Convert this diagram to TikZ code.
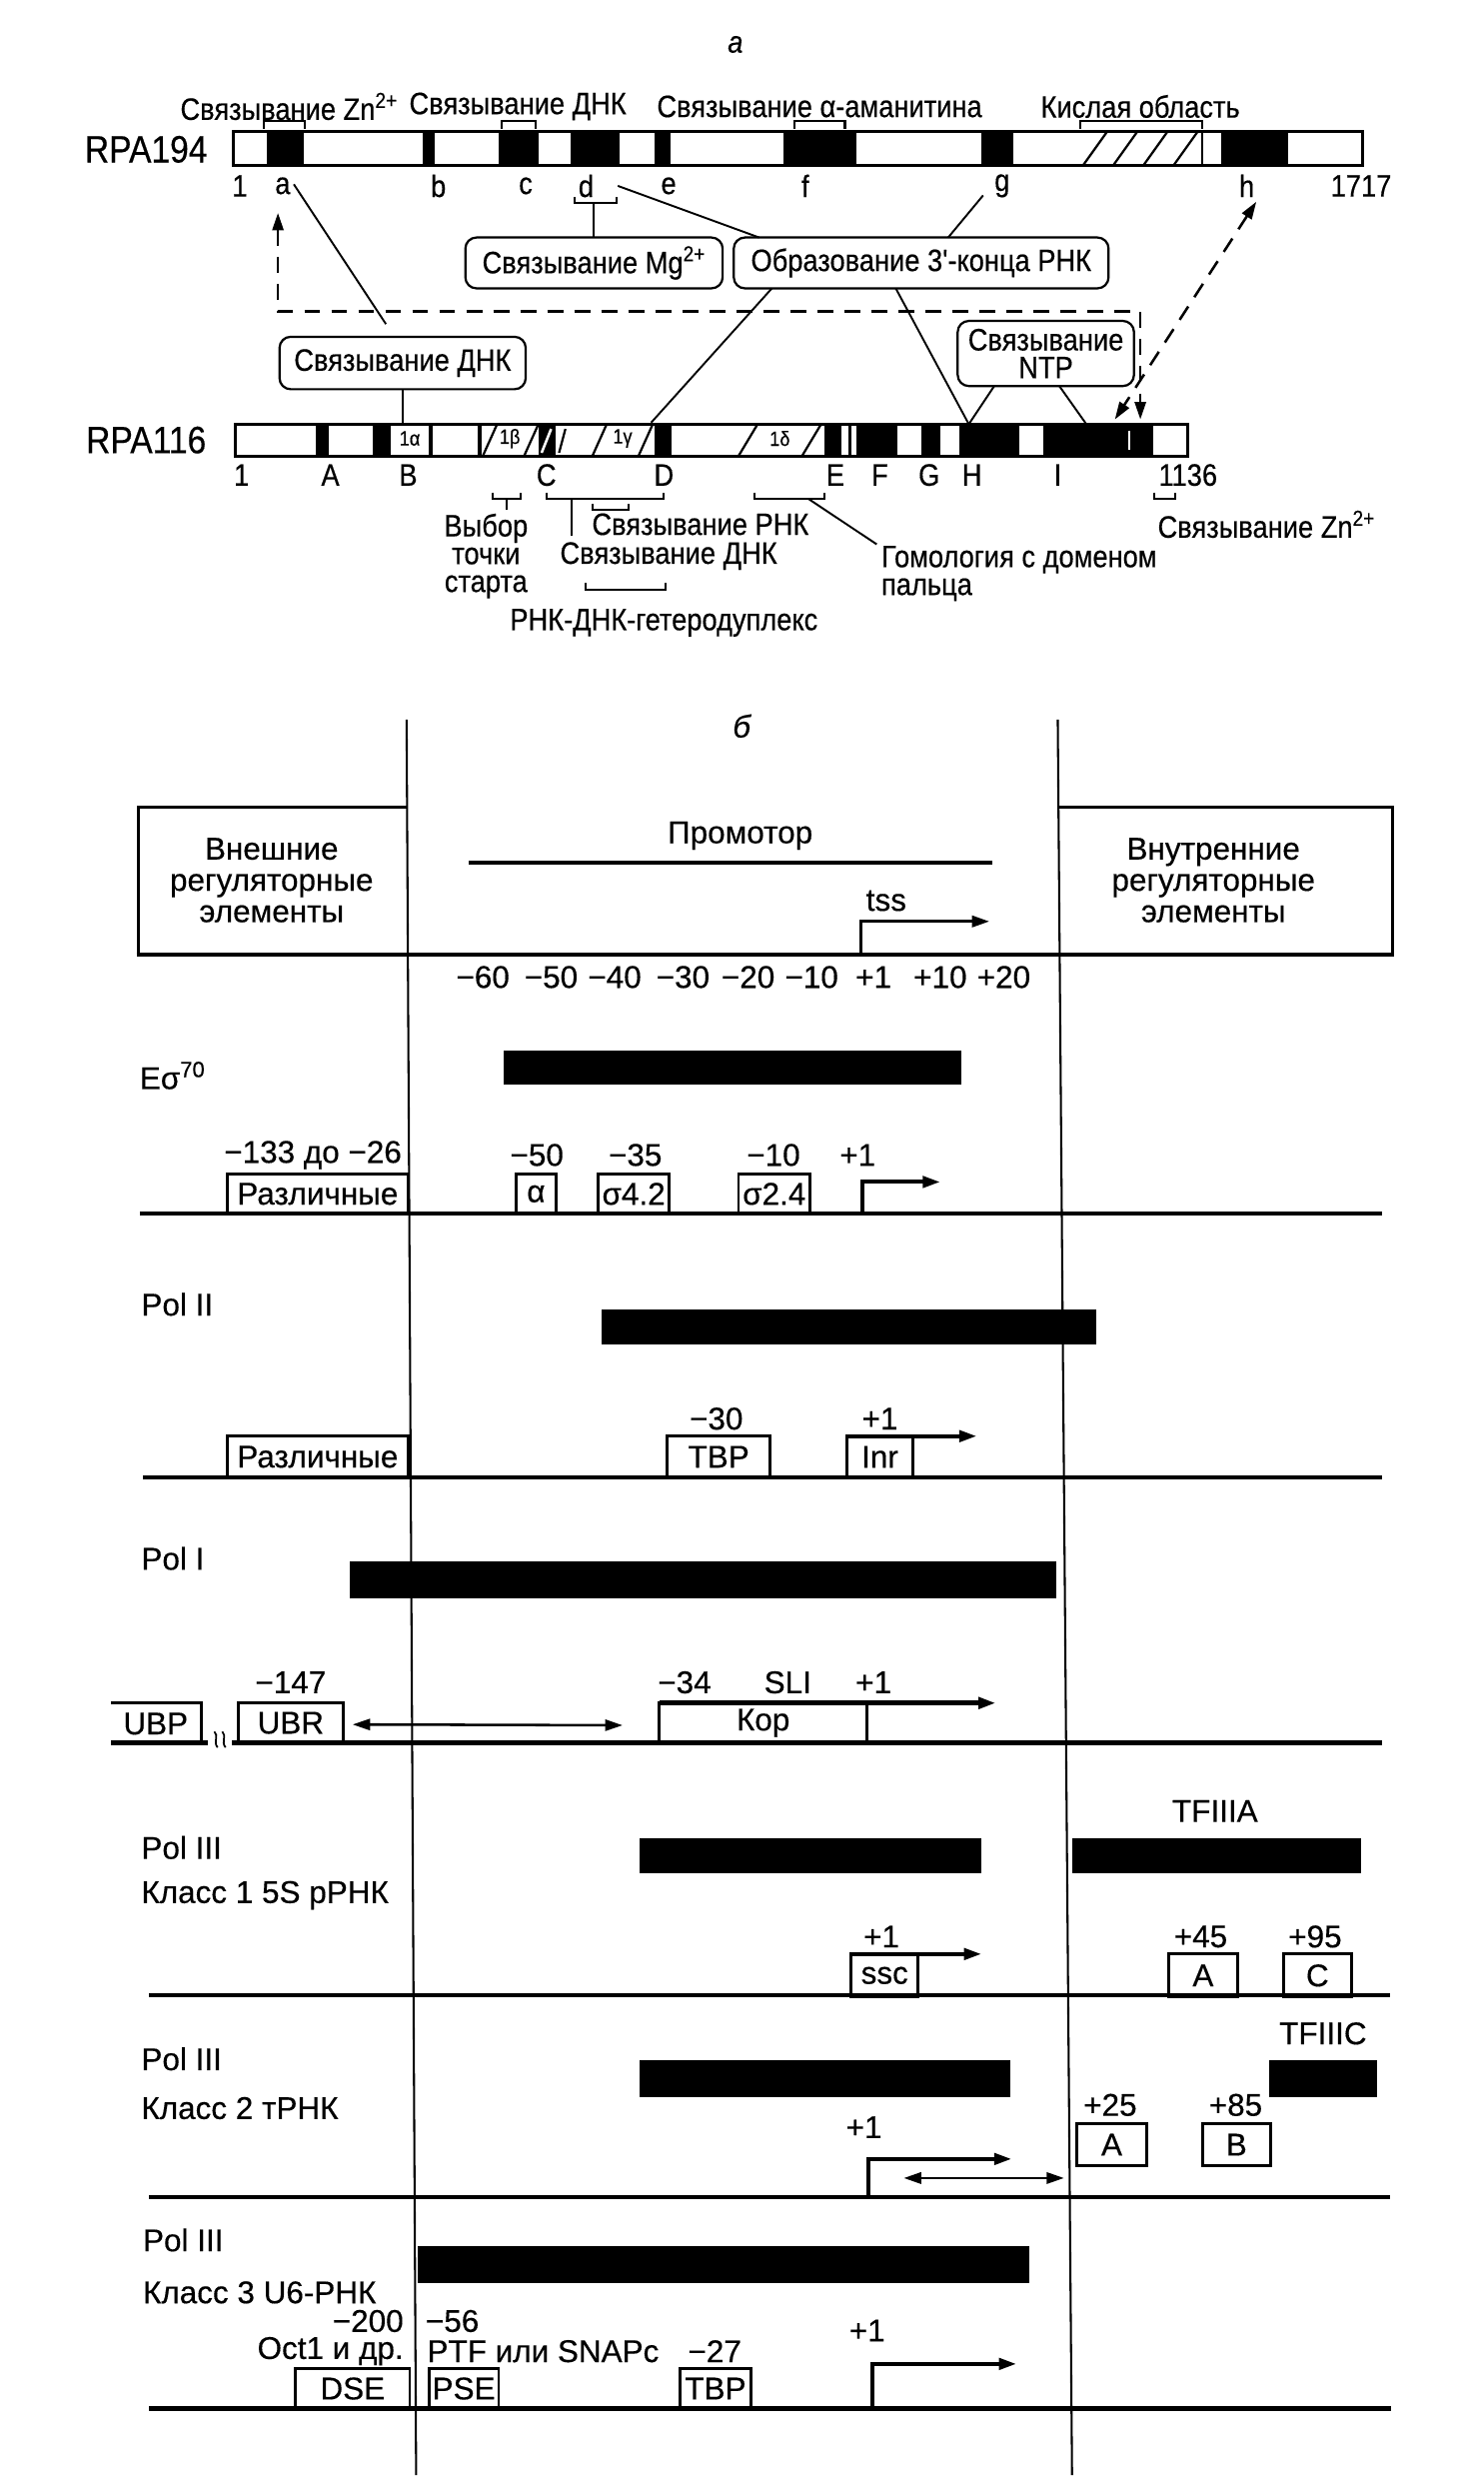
\documentclass[tikz,border=0pt]{standalone}
\usepackage{fontspec}
\setmainfont[FakeBold=0.35]{Liberation Sans}
\newfontfamily\condfam[FakeStretch=0.88,FakeBold=0.35]{Liberation Sans}
\usetikzlibrary{arrows.meta,calc}
\newcommand\pafont{\condfam\fontsize{19.5}{17.5}\selectfont}
\newcommand\pabig{\condfam\fontsize{24}{24}\selectfont}
\newcommand\pasmall{\condfam\fontsize{13}{14}\selectfont}
\newcommand\pbfont{\fontsize{19.8}{19.7}\selectfont}
\begin{document}
\begin{tikzpicture}[x=1pt,y=-1pt,
  every node/.style={inner sep=0pt, outer sep=0pt},
  ta/.style={font=\pafont},
  tb/.style={font=\pbfont},
  rbox/.style={draw, line width=1.4pt, rounded corners=7pt, font=\pafont, align=center},
  barframe/.style={line width=2pt},
  con/.style={line width=1.2pt},
  brk/.style={line width=1.3pt},
  dsh/.style={line width=1.6pt, dash pattern=on 10pt off 7pt},
  tip/.style={-{Triangle[length=11pt,width=7pt]}},
  dtip/.style={{Triangle[length=11pt,width=7pt]}-{Triangle[length=11pt,width=7pt]}},
  vline/.style={line width=1.3pt},
  base/.style={line width=2.8pt},
  frame/.style={line width=2pt},
  ebox/.style={draw, line width=1.8pt, font=\pbfont},
  hatch/.style={line width=1.4pt},
]
\fill[white] (0,0) rectangle (934,1568);
\useasboundingbox (0,0) rectangle (934,1568);

%================ PART a ================
\node[font=\pafont\itshape] (lbla) at (463,28) {а};

\node[ta] (tZn)   at (182,67) {Связывание Zn\textsuperscript{2+}};
\node[ta] (tDNK)  at (326,67) {Связывание ДНК};
\node[ta] (tAma)  at (516,67) {Связывание α-аманитина};
\node[ta] (tAcid) at (718,67) {Кислая область};

\draw[brk] (166,81)--(166,76)--(192,76)--(192,81);
\draw[brk] (316,81)--(316,76)--(337,76)--(337,81);
\draw[brk] (500,81)--(500,76)--(532,76)--(532,81);
\draw[brk] (680,81)--(680,76)--(757,76)--(757,81);

\node[font=\pabig] (r194) at (92,94) {RPA194};
\foreach \a/\b in {168/191, 266/274, 314/339, 359/390, 412/422, 493/539, 618/638, 769/811}
  \fill (\a,83) rectangle (\b,104);
\foreach \i in {0,...,3}
  \draw[hatch] (682+19*\i,104) -- (697+19*\i,83);
\draw[hatch] (757,83)--(757,104);
\draw[barframe] (147,83) rectangle (858,104);

\node[ta] (n1)  at (151,117) {1};
\node[ta] (na)  at (178,117) {a};
\node[ta] (nb)  at (276,117) {b};
\node[ta] (nc)  at (331,117) {c};
\node[ta] (nd)  at (369,117) {d};
\node[ta] (ne)  at (421,117) {e};
\node[ta] (nf)  at (507,117) {f};
\node[ta] (ng)  at (631,117) {g};
\node[ta] (nh)  at (785,117) {h};
\node[ta] (n1717) at (857,117) {1717};

\node[rbox, minimum width=162, minimum height=32] (mg)  at (374,165.5) {Связывание Mg\textsuperscript{2+}};
\node[rbox, minimum width=236, minimum height=32] (obr) at (580,165.5) {Образование 3'-конца РНК};
\node[rbox, minimum width=155, minimum height=33] (dnkbox) at (253.5,228.5) {Связывание ДНК};
\node[rbox, minimum width=111, minimum height=41] (ntp) at (658.5,222.5) {Связывание\\NTP};

% d bracket to Mg box
\draw[brk] (362,124)--(362,128)--(388,128)--(388,124);
\draw[con] (mg.north |- 0,128) -- (mg.north);

% connectors
\coordinate (pa) at (185,116);
\coordinate (pa2) at (243,204);
\draw[con] (pa) -- (pa2);
\coordinate (pd) at (389,117);
\draw[con] (pd) -- ($(obr.north west)+(16,0)$);
\coordinate (pg) at (619,123);
\draw[con] (pg) -- ($(obr.north)+(17,0)$);
\coordinate (pD) at (410,266);
\draw[con] ($(obr.south west)+(24,0)$) -- (pD);
\coordinate (pH) at (610,267);
\coordinate (pI) at (684,267);
\draw[con] ($(obr.south west)+(102,0)$) -- (pH);
\draw[con] ($(ntp.south west)+(23,0)$) -- (pH);
\draw[con] ($(ntp.south west)+(64,0)$) -- (pI);
\draw[con] (dnkbox.south) -- (dnkbox.south |- 0,267);

% dashed links
\coordinate (dA) at (175,134);
\coordinate (dI) at (718,264);
\draw[dsh, dtip] (dA) -- (175,196) -- (718,196) -- (dI);
\coordinate (dh) at (791,127);
\coordinate (dJ) at (702,264);
\draw[dsh, dtip] (dh) -- (dJ);

% RPA116 bar
\node[font=\pabig] (r116) at (92,277) {RPA116};
\foreach \a/\b in {199/207, 235/246, 270/272.5, 301/303, 339/350, 412/423, 519/530, 534/536, 539/565, 580/592, 604/642, 657/726}
  \fill (\a,267) rectangle (\b,287);
\draw[white, line width=1.2pt] (711,271)--(711,283);
\draw[white, line width=1.6pt] (341,285)--(347,270);
\draw[hatch] (304,287)--(313,267) (330,287)--(339,267);
\draw[hatch] (352,285)--(356,270);
\draw[hatch] (373,287)--(382,267) (402,287)--(411,267);
\draw[hatch] (465,287)--(477,267) (505,287)--(517,267);
\node[font=\pasmall] (s1a) at (258,276) {1α};
\node[font=\pasmall] (s1b) at (321,276) {1β};
\node[font=\pasmall] (s1g) at (392,276) {1γ};
\node[font=\pasmall] (s1d) at (491,276) {1δ};
\draw[barframe] (148,267) rectangle (748,287);

\node[ta] (m1) at (152,299) {1};
\node[ta] (mA) at (208,299) {A};
\node[ta] (mB) at (257,299) {B};
\node[ta] (mC) at (344,299) {C};
\node[ta] (mD) at (418,299) {D};
\node[ta] (mE) at (526,299) {E};
\node[ta] (mF) at (554,299) {F};
\node[ta] (mG) at (585,299) {G};
\node[ta] (mH) at (612,299) {H};
\node[ta] (mI) at (666,299) {I};
\node[ta] (m1136) at (748,299) {1136};

% brackets under RPA116
\draw[brk] (310,310)--(310,314)--(328,314)--(328,310);
\draw[brk] (319,314)--(319,321);
\node[ta, align=center] (vybor) at (306,350) {Выбор\\точки\\старта};
\draw[brk] (344,310)--(344,314)--(418,314)--(418,310);
\draw[brk] (360,314)--(360,337);
\draw[brk] (373,317)--(373,321)--(396,321)--(396,317);
\node[ta] (svRNK) at (441,330) {Связывание РНК};
\node[ta] (svDNK) at (421,350) {Связывание ДНК};
\draw[brk] (369,367)--(369,371)--(419,371)--(419,367);
\node[ta] (hetero) at (418,392) {РНК-ДНК-гетеродуплекс};
\draw[brk] (475,310)--(475,314)--(519,314)--(519,310);
\node[ta, align=left, anchor=west] (homol) at (555,361) {Гомология с доменом\\пальца};
\draw[con] (509,314) -- ($(homol.north west)+(-3,-1)$);
\draw[brk] (727,310)--(727,314)--(740,314)--(740,310);
\node[ta, anchor=west] (zn2) at (729,330) {Связывание Zn\textsuperscript{2+}};

%================ PART b ================
\node[font=\pbfont\itshape] (lblb) at (467,457) {б};
\coordinate (vl1) at (256,453); \coordinate (vl2) at (262,1558);
\coordinate (vr1) at (666,453); \coordinate (vr2) at (675,1558);
\draw[vline] (vl1) -- (vl2);
\draw[vline] (vr1) -- (vr2);

% header
\draw[frame] (256,508) -- (87,508) -- (87,601);
\draw[frame] (667,508) -- (877,508) -- (877,601);
\draw[base] (86,601) -- (878,601);
\node[tb, align=center] (ext) at (171,554) {Внешние\\регуляторные\\элементы};
\node[tb, align=center] (int) at (764,554) {Внутренние\\регуляторные\\элементы};
\node[tb] (prom) at (466,526) {Промотор};
\draw[line width=2.4pt] (295,543) -- (625,543);
\node[tb] (tss) at (558,567) {tss};
\draw[line width=2pt, tip] (542,601) -- (542,580) -- (623,580);
\foreach \x/\t [count=\k] in {304/−60, 347/−50, 387/−40, 430/−30, 471/−20, 511/−10, 550/+1, 592/+10, 632/+20}
  \node[tb] (sc\k) at (\x,615) {\t};

% row 1: E sigma 70
\node[tb, anchor=west] (rEs) at (88,677) {Eσ\textsuperscript{70}};
\fill (317,661) rectangle (605,683);
\node[tb] (e133) at (197,727) {−133 до −26};
\node[tb] (e50) at (338,727) {−50};
\node[tb] (e35) at (400,727) {−35};
\node[tb] (e10) at (487,727) {−10};
\node[tb] (e1) at (540,727) {+1};
\node[ebox, minimum width=114, minimum height=25] (eDiff) at (200,751.5) {Различные};
\node[ebox, minimum width=25, minimum height=25] (eAl) at (337.5,751.5) {α};
\node[ebox, minimum width=45, minimum height=25] (eS42) at (399,751.5) {σ4.2};
\node[ebox, minimum width=45, minimum height=25] (eS24) at (487.5,751.5) {σ2.4};
\draw[line width=2.5pt, tip] (543,764) -- (543,744) -- (592,744);
\draw[base] (88,764) -- (870,764);

% row 2: Pol II
\node[tb, anchor=west] (rP2) at (89,821) {Pol II};
\fill (379,824) rectangle (690,846);
\node[tb] (p30) at (451,893) {−30};
\node[tb] (p1) at (554,893) {+1};
\node[ebox, minimum width=114, minimum height=26] (pDiff) at (200,917) {Различные};
\node[ebox, minimum width=65, minimum height=26] (pTBP) at (452.5,917) {TBP};
\node[ebox, minimum width=42, minimum height=26] (pInr) at (554,917) {Inr};
\draw[line width=2.5pt, tip] (pInr.north west) -- (615,904);
\draw[base] (90,930) -- (870,930);

% row 3: Pol I
\node[tb, anchor=west] (rP1) at (89,981) {Pol I};
\fill (220,983) rectangle (665,1006);
\node[tb] (u147) at (183,1059) {−147};
\node[tb] (u34) at (431,1059) {−34};
\node[tb] (uSLI) at (496,1059) {SLI};
\node[tb] (u1) at (550,1059) {+1};
\draw[frame] (70,1072) -- (127,1072) -- (127,1097);
\node[tb] (uUBP) at (98,1085) {UBP};
\node[ebox, minimum width=66, minimum height=25] (uUBR) at (183,1084.5) {UBR};
\draw[line width=1.6pt, dtip] ($(uUBR.east)+(6,1)$) -- (392,1086);
\node[ebox, line width=1.6pt, minimum width=131, minimum height=25] (uKop) at (480.5,1084.5) {Кор};
\draw[line width=3pt, tip] (uKop.north west) -- (627,1072);
\draw[base] (70,1097) -- (131,1097);
\draw[base] (146,1097) -- (870,1097);
\draw[line width=1.1pt] (135,1090) .. controls (138,1093) and (134,1096) .. (137,1100);
\draw[line width=1.1pt] (140,1090) .. controls (143,1093) and (139,1096) .. (142,1100);

% row 4: Pol III class 1
\node[tb, anchor=west] (rP3a) at (89,1163) {Pol III};
\node[tb, anchor=west] (rK1) at (89,1193) {Класс 1 5S рРНК};
\fill (403,1157) rectangle (618,1179);
\fill (675,1157) rectangle (857,1179);
\node[tb] (tf3a) at (765,1140) {TFIIIA};
\node[tb] (c1p1) at (555,1219) {+1};
\node[tb] (c1p45) at (756,1219) {+45};
\node[tb] (c1p95) at (828,1219) {+95};
\node[ebox, minimum width=42, minimum height=27] (ssc) at (557,1243.5) {ssc};
\draw[line width=2.5pt, tip] (ssc.north west) -- (618,1230);
\node[ebox, minimum width=43, minimum height=27] (c1A) at (757.5,1243.5) {A};
\node[ebox, minimum width=43, minimum height=27] (c1C) at (829.5,1243.5) {C};
\draw[base] (94,1256) -- (875,1256);

% row 5: Pol III class 2
\node[tb, anchor=west] (rP3b) at (89,1296) {Pol III};
\node[tb, anchor=west] (rK2) at (89,1327) {Класс 2 тРНК};
\fill (403,1297) rectangle (636,1320);
\fill (799,1297) rectangle (867,1320);
\node[tb] (tf3c) at (833,1280) {TFIIIC};
\node[tb] (c2p25) at (699,1325) {+25};
\node[tb] (c2p85) at (778,1325) {+85};
\node[ebox, minimum width=44, minimum height=26] (c2A) at (700,1350) {A};
\node[ebox, minimum width=43, minimum height=26] (c2B) at (778.5,1350) {B};
\node[tb] (c2p1) at (544,1339) {+1};
\draw[line width=2.5pt, tip] (547,1383) -- (547,1359) -- (637,1359);
\draw[line width=1.8pt, dtip] (569,1371) -- (670,1371);
\draw[base] (94,1383) -- (875,1383);

% row 6: Pol III class 3
\node[tb, anchor=west] (rP3c) at (90,1410) {Pol III};
\node[tb, anchor=west] (rK3) at (90,1443) {Класс 3 U6-РНК};
\fill (263,1414) rectangle (648,1437);
\node[tb, anchor=east] (c3m200) at (254,1461) {−200};
\node[tb, anchor=west] (c3m56) at (268,1461) {−56};
\node[tb, anchor=east] (c3oct) at (254,1480) {Oct1 и др.};
\node[tb, anchor=west] (c3ptf) at (269,1480) {PTF или SNAPc};
\node[tb] (c3m27) at (450,1480) {−27};
\node[tb] (c3p1) at (546,1467) {+1};
\node[ebox, minimum width=72, minimum height=25] (dse) at (222,1503.5) {DSE};
\node[ebox, minimum width=44, minimum height=25] (pse) at (292,1503.5) {PSE};
\node[ebox, minimum width=45, minimum height=25] (tbp3) at (450.5,1503.5) {TBP};
\draw[line width=2.5pt, tip] (549,1516) -- (549,1488) -- (640,1488);
\draw[base] (94,1516) -- (876,1516);
\end{tikzpicture}
\end{document}
